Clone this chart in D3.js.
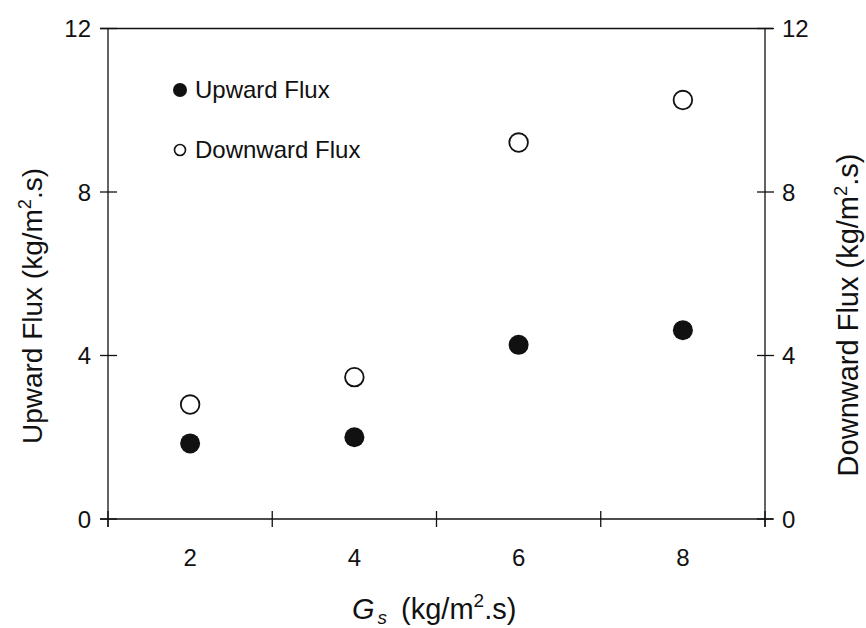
<!DOCTYPE html>
<html>
<head>
<meta charset="utf-8">
<script src="https://cdn.jsdelivr.net/npm/d3@7"></script>
<style>
  html, body { margin: 0; padding: 0; background: #fff; }
  svg { display: block; font-family: "Liberation Sans", Arial, sans-serif; }
</style>
</head>
<body>
<svg id="chart" width="866" height="628"></svg>
<script>
// Solids mass flux Gs and the measured fluxes
const gsValues = [2, 4, 6, 8];
const upwardFlux = [1.85, 2.0, 4.26, 4.62];
const downwardFlux = [2.8, 3.47, 9.21, 10.25];
const xTickLabels = [2, 4, 6, 8];
const xGridTicks = [1, 3, 5, 7, 9];
const yTicks = [0, 4, 8, 12];
const seriesNames = ["Upward Flux", "Downward Flux"];

const svg = d3.select("#chart");
const ink = "#111";

const x = d3.scaleLinear().domain([1, 9]).range([108, 765]);
const yLeft = d3.scaleLinear().domain([0, 12]).range([519, 28.5]);
const yRight = d3.scaleLinear().domain([0, 12]).range([519, 28.5]);

const frame = svg.append("g").attr("stroke", ink).attr("stroke-width", 1.3).attr("fill", "none");

// plot frame
frame.append("line").attr("x1", x(1)).attr("x2", x(1)).attr("y1", yLeft(12)).attr("y2", yLeft(0) + 8);
frame.append("line").attr("x1", x(9)).attr("x2", x(9)).attr("y1", yLeft(12)).attr("y2", yLeft(0) + 8);
frame.append("line").attr("x1", x(1) - 8).attr("x2", x(9) + 8).attr("y1", yLeft(0)).attr("y2", yLeft(0));
frame.append("line").attr("x1", x(1) - 8).attr("x2", x(9) + 8).attr("y1", yLeft(12)).attr("y2", yLeft(12));

// x ticks between the categories, crossing the axis
frame.selectAll(".xt").data(xGridTicks).join("line")
  .attr("x1", d => x(d)).attr("x2", d => x(d))
  .attr("y1", yLeft(0) - 8).attr("y2", yLeft(0) + 8);

// y ticks on both sides, crossing the axes
frame.selectAll(".ylt").data(yTicks).join("line")
  .attr("x1", x(1) - 8).attr("x2", x(1) + 9)
  .attr("y1", d => yLeft(d)).attr("y2", d => yLeft(d));
frame.selectAll(".yrt").data(yTicks).join("line")
  .attr("x1", x(9) - 8).attr("x2", x(9) + 9)
  .attr("y1", d => yRight(d)).attr("y2", d => yRight(d));

const labelSize = 24;
svg.append("g").selectAll("text").data(yTicks).join("text")
  .attr("x", x(1) - 17).attr("y", d => yLeft(d)).attr("dy", "0.36em")
  .attr("text-anchor", "end").attr("font-size", labelSize).attr("fill", ink)
  .text(d => d);
svg.append("g").selectAll("text").data(yTicks).join("text")
  .attr("x", x(9) + 17).attr("y", d => yRight(d)).attr("dy", "0.36em")
  .attr("text-anchor", "start").attr("font-size", labelSize).attr("fill", ink)
  .text(d => d);
svg.append("g").selectAll("text").data(xTickLabels).join("text")
  .attr("x", d => x(d)).attr("y", yLeft(0) + 47)
  .attr("text-anchor", "middle").attr("font-size", labelSize).attr("fill", ink)
  .text(d => d);

// axis titles
const titleSize = 28;
function unitsTitle(sel, lead) {
  sel.append("tspan").text(lead + " (kg/m");
  sel.append("tspan").attr("font-size", titleSize * 0.65).attr("dy", -titleSize * 0.4).text("2");
  sel.append("tspan").attr("dy", titleSize * 0.4).text(".s)");
}
const leftTitle = svg.append("text")
  .attr("transform", "translate(42,306) rotate(-90)")
  .attr("text-anchor", "middle").attr("font-size", titleSize).attr("fill", ink);
unitsTitle(leftTitle, "Upward Flux");
const rightTitle = svg.append("text")
  .attr("transform", "translate(858,315) rotate(-90)")
  .attr("text-anchor", "middle").attr("font-size", 29).attr("fill", ink);
unitsTitle(rightTitle, "Downward Flux");

const xTitle = svg.append("text")
  .attr("x", 352).attr("y", 619)
  .attr("font-size", 29).attr("fill", ink);
xTitle.append("tspan").attr("font-style", "italic").text("G");
xTitle.append("tspan").attr("font-style", "italic").attr("font-size", 19).attr("dx", 3).attr("dy", 5).text("s");
xTitle.append("tspan").attr("dy", -5).attr("dx", 14).text("(kg/m");
xTitle.append("tspan").attr("font-size", 19).attr("dy", -12).text("2");
xTitle.append("tspan").attr("dy", 12).text(".s)");

// data points
const pts = svg.append("g");
pts.selectAll(".up").data(gsValues).join("circle")
  .attr("cx", d => x(d)).attr("cy", (d, i) => yLeft(upwardFlux[i]))
  .attr("r", 10).attr("fill", ink);
pts.selectAll(".down").data(gsValues).join("circle")
  .attr("cx", d => x(d)).attr("cy", (d, i) => yRight(downwardFlux[i]))
  .attr("r", 9.3).attr("fill", "#fff").attr("stroke", ink).attr("stroke-width", 1.8);

// legend
const legend = svg.append("g");
legend.append("circle").attr("cx", 180).attr("cy", 90).attr("r", 7).attr("fill", ink);
legend.append("circle").attr("cx", 180).attr("cy", 150).attr("r", 5.5)
  .attr("fill", "#fff").attr("stroke", ink).attr("stroke-width", 1.6);
legend.append("text").attr("x", 195).attr("y", 98).attr("font-size", 24).attr("fill", ink).text(seriesNames[0]);
legend.append("text").attr("x", 195).attr("y", 158).attr("font-size", 24).attr("fill", ink).text(seriesNames[1]);
</script>
</body>
</html>
